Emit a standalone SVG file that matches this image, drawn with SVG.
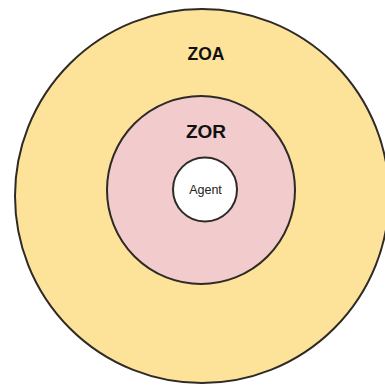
<svg xmlns="http://www.w3.org/2000/svg" width="385" height="385" viewBox="0 0 385 385">
<style>
.ring{stroke:#2e2a26;stroke-width:2}
.lbl{font-family:"Liberation Sans",Arial,sans-serif;font-weight:bold;fill:#111;text-anchor:middle}
.agent{font-family:"Liberation Sans",Arial,sans-serif;font-size:12.5px;fill:#222;text-anchor:middle}
</style>
<rect width="385" height="385" fill="#fff"/>
<g id="zoa">
<circle class="ring" cx="202" cy="196" r="187" fill="#fde39a"/>
<text class="lbl" x="206" y="60" font-size="17.5">ZOA</text>
</g>
<g id="zor">
<circle class="ring" cx="201" cy="190" r="94" fill="#f2cbcd"/>
<text class="lbl" x="206" y="137.5" font-size="19">ZOR</text>
</g>
<g id="agent">
<circle class="ring" cx="205" cy="189.5" r="32" fill="#fff"/>
<text class="agent" x="205.5" y="194">Agent</text>
</g>
<g id="connectors"/>
</svg>
